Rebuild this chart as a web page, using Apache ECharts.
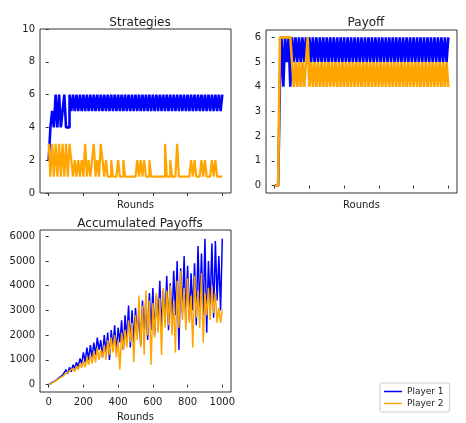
<!DOCTYPE html>
<html><head><meta charset="utf-8">
<script src="https://cdn.jsdelivr.net/npm/echarts@6/dist/echarts.min.js"></script>
<style>html,body{margin:0;padding:0;background:#fff}#c{width:466px;height:423px}</style>
</head><body><div id="c"></div>
<script>
const sampleStep = 10; // rounds between samples
const stratP1 = [2,4,5,4,6,4,6,4,5,6,4,4,6,5,6,5,6,5,6,5,6,5,6,5,6,5,6,5,6,5,6,5,6,5,6,5,6,5,6,5,6,5,6,5,6,5,6,5,6,5,6,5,6,5,6,5,6,5,6,5,6,5,6,5,6,5,6,5,6,5,6,5,6,5,6,5,6,5,6,5,6,5,6,5,6,5,6,5,6,5,6,5,6,5,6,5,6,5,6,5,6];
const stratP2 = [3,1,3,1,3,1,3,1,3,1,3,1,3,2,1,2,1,2,1,2,1,3,1,2,1,2,3,1,2,1,3,2,1,2,1,1,2,1,1,1,2,1,1,2,1,1,1,1,1,1,1,2,1,2,1,2,1,1,2,1,1,1,1,1,1,1,1,3,1,1,2,1,1,1,3,1,1,1,1,1,1,1,2,1,2,1,1,1,2,1,2,1,1,1,2,1,2,1,1,1,1];
const payP1 = [0,0,0,4,6,4,6,5,6,4,6,5,6,5,6,5,6,5,6,5,6,5,6,5,6,5,6,5,6,5,6,5,6,5,6,5,6,5,6,5,6,5,6,5,6,5,6,5,6,5,6,5,6,5,6,5,6,5,6,5,6,5,6,5,6,5,6,5,6,5,6,5,6,5,6,5,6,5,6,5,6,5,6,5,6,5,6,5,6,5,6,5,6,5,6,5,6,5,6,5,6];
const payP2 = [0,0,0,6,6,6,6,6,6,6,5,4,5,4,5,4,5,4,5,6,4,5,4,5,4,5,4,5,4,5,4,5,4,5,4,5,4,5,4,5,4,5,4,5,4,5,4,5,4,5,4,5,4,5,4,5,4,5,4,5,4,5,4,5,4,5,4,5,4,5,4,5,4,5,4,5,4,5,4,5,4,5,4,5,4,5,4,5,4,5,4,5,4,5,4,5,4,5,4,5,4];
const accP1 = [0,40,90,120,160,230,280,290,380,400,
600,450,700,520,800,650,900,700,1050,850,
1300,900,1500,1000,1600,1100,1700,1200,1900,1400,
1800,1100,2000,1300,2100,1000,2200,1500,2400,1300,
2300,1700,2600,1400,2800,1800,3200,1500,3000,1700,
3100,2000,2900,1600,3400,2100,3500,1800,3700,2200,
3900,2000,3600,2400,4200,2300,3800,2600,4400,2200,
4100,2500,4600,2800,5000,1400,4700,2900,5200,2500,
4800,2600,4500,3000,4900,2400,5600,3000,5300,2800,
5900,2100,5000,3200,5700,2700,5800,3400,5200,3000,5900];
const accP2 = [0,30,70,110,150,200,250,300,330,380,
450,400,550,480,650,520,750,600,850,680,
950,700,1100,800,1200,850,1350,900,1500,1000,
1400,1100,1600,1000,1800,1200,1900,1300,2000,1100,
1800,600,2100,1400,2200,1500,2600,1700,2500,900,
2800,1800,3600,1500,3200,1200,3800,2000,3400,800,
3300,1900,3700,2100,3500,1200,3900,2300,3800,2400,
4000,2000,3400,1300,4200,2300,4600,2600,3900,2200,
4300,2500,3600,1500,4400,2700,3800,2300,4500,1700,
3700,2800,3900,2600,4000,2900,3700,2500,3100,2500,3000];
const xTicks = [0,200,400,600,800,1000];
const stratTicks = [0,2,4,6,8,10];
const payTicks = [0,1,2,3,4,5,6];
const accTicks = [0,1000,2000,3000,4000,5000,6000];

const pts = arr => arr.map((v,i)=>[i*sampleStep, v]);
const FONT = 'DejaVu Sans';
const BLUE = '#0000ff', ORANGE = '#ffa500';
const grids = [
  {left:40, top:29, width:191, height:164},
  {left:266, top:30, width:191, height:163},
  {left:40, top:230, width:191, height:165}
].map(g=>Object.assign(g,{show:true,borderColor:'#333',borderWidth:1,backgroundColor:'#fff'}));
function xAx(i, showLabels){
  return {type:'value', gridIndex:i, min:-50, max:1050,
    name:'Rounds', nameLocation:'middle', nameGap: showLabels?20:7,
    nameTextStyle:{fontFamily:FONT,fontSize:10,color:'#222'},
    axisLine:{show:false}, splitLine:{show:false},
    axisTick:{show:true, customValues:xTicks, length:3, lineStyle:{color:'#333'}},
    axisLabel:{show:showLabels, customValues:xTicks, formatter:v=>String(v), fontFamily:FONT,fontSize:10,color:'#222',margin:5}};
}
function yAx(i,min,max,ticks){
  return {type:'value', gridIndex:i, min:min, max:max,
    axisLine:{show:false}, splitLine:{show:false},
    axisTick:{show:true, customValues:ticks, length:3, lineStyle:{color:'#333'}},
    axisLabel:{customValues:ticks, formatter:v=>String(v), fontFamily:FONT,fontSize:10,color:'#222',margin:5}};
}
function line(name, data, i, color, step, w){
  return {name:name, type:'line', xAxisIndex:i, yAxisIndex:i, data:pts(data), step:step?'end':false,
    showSymbol:false, symbol:'none', lineStyle:{color:color,width:w}, itemStyle:{color:color}, animation:false};
}
const chart = echarts.init(document.getElementById('c'));
chart.setOption({
  animation:false,
  title:[
    {text:'Strategies', left:135, top:12, textAlign:'center', textStyle:{fontFamily:FONT,fontSize:12,fontWeight:'normal',color:'#222'}},
    {text:'Payoff', left:361, top:12, textAlign:'center', textStyle:{fontFamily:FONT,fontSize:12,fontWeight:'normal',color:'#222'}},
    {text:'Accumulated Payoffs', left:135, top:213, textAlign:'center', textStyle:{fontFamily:FONT,fontSize:12,fontWeight:'normal',color:'#222'}}
  ],
  legend:{left:380, top:383, orient:'vertical', itemGap:3, itemWidth:18, itemHeight:8,
    padding:[4,6,4,4], borderColor:'#ccc', borderWidth:1, borderRadius:2,
    textStyle:{fontFamily:FONT,fontSize:9,color:'#222'},
    data:[{name:'Player 1',icon:'path://M0,4 L18,4 L18,5.5 L0,5.5 Z'},{name:'Player 2',icon:'path://M0,4 L18,4 L18,5.5 L0,5.5 Z'}]},
  grid:grids,
  xAxis:[xAx(0,false), xAx(1,false), xAx(2,true)],
  yAxis:[yAx(0,0,10,stratTicks), yAx(1,-0.3,6.3,payTicks), yAx(2,-300,6250,accTicks)],
  series:[
    line('Player 1', stratP1, 0, BLUE, true, 2.6),
    line('Player 2', stratP2, 0, ORANGE, true, 2.2),
    line('Player 1', payP1, 1, BLUE, true, 2.6),
    line('Player 2', payP2, 1, ORANGE, true, 2.6),
    line('Player 1', accP1, 2, BLUE, false, 1.5),
    line('Player 2', accP2, 2, ORANGE, false, 1.5)
  ]
});
</script></body></html>
